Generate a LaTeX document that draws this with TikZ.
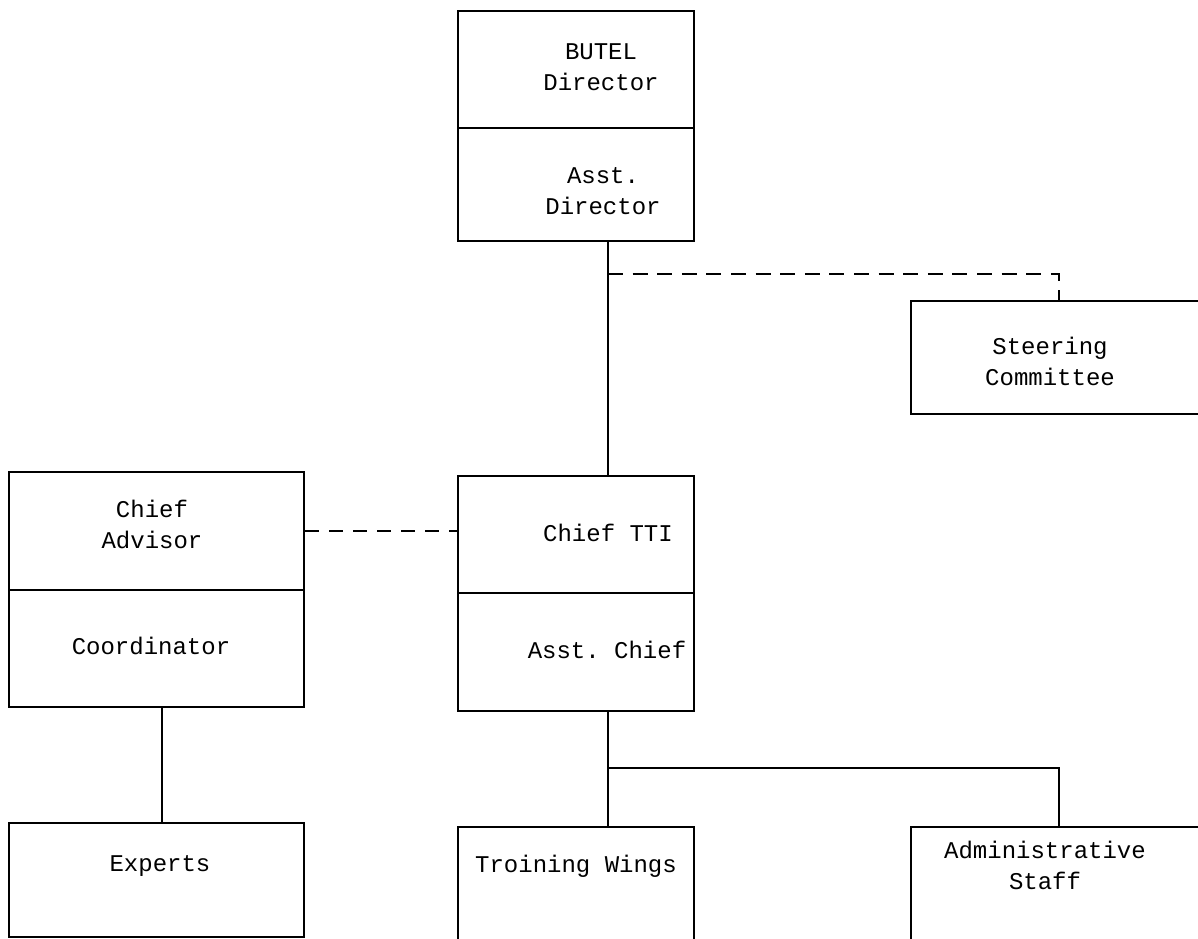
\documentclass[tikz,border=0pt]{standalone}
\usepackage{fontspec}
\setmonofont{Liberation Mono}
\begin{document}
\begin{tikzpicture}[x=1pt,y=-1pt,
  box/.style={draw, line width=2pt, inner sep=0pt, anchor=north west},
  lbl/.style={font=\ttfamily\fontsize{24}{31}\selectfont, align=center, inner sep=0pt},
  conn/.style={line width=2pt},
  dconn/.style={line width=2pt, dash pattern=on 14pt off 10pt}]
\useasboundingbox (0,0) rectangle (1198,938);
\clip (0,0) rectangle (1198,938);
% boxes
\node[box, minimum width=236pt, minimum height=117pt] (butel) at (457,10) {};
\node[box, minimum width=236pt, minimum height=113pt] (asstdir) at (457,127) {};
\node[box, minimum width=296pt, minimum height=113pt] (steer) at (910,300) {};
\node[box, minimum width=295pt, minimum height=118pt] (advisor) at (8,471) {};
\node[box, minimum width=295pt, minimum height=117pt] (coord) at (8,589) {};
\node[box, minimum width=236pt, minimum height=117pt] (tti) at (457,475) {};
\node[box, minimum width=236pt, minimum height=118pt] (asstchief) at (457,592) {};
\node[box, minimum width=295pt, minimum height=114pt] (experts) at (8,822) {};
\node[box, minimum width=236pt, minimum height=200pt] (training) at (457,826) {};
\node[box, minimum width=296pt, minimum height=200pt] (admin) at (910,826) {};
% labels
\node[lbl] (tbutel) at (601,67) {BUTEL\\Director};
\node[lbl] (tasstdir) at (603,191) {Asst.\\Director};
\node[lbl] (tsteer) at (1050,361) {Steering\\Committee};
\node[lbl] (tadvisor) at (152,524) {Chief\\Advisor};
\node[lbl] (tcoord) at (151,646) {Coordinator};
\node[lbl] (ttti) at (608,533) {Chief TTI};
\node[lbl] (tasstchief) at (607,650) {Asst. Chief};
\node[lbl] (texperts) at (160,866) {Experts};
\node[lbl] (ttraining) at (576,866) {Troining Wings};
\node[lbl] (tadmin) at (1045,865) {Administrative\\Staff};
% connectors
\coordinate (a1) at ([xshift=32pt]asstdir.south);
\coordinate (a2) at ([xshift=32pt]tti.north);
\coordinate (j1) at ([yshift=-32pt]a1);
\draw[conn] (a1) -- (a2);
\draw[dconn, dash pattern=on 15pt off 9.6pt] (j1) -| (steer.north);
\draw[dconn] (advisor.east) -- (advisor.east -| tti.west);
\draw[conn] ([xshift=5pt]coord.south) -- ([xshift=5pt]experts.north);
\coordinate (b1) at ([xshift=32pt]asstchief.south);
\coordinate (b2) at ([xshift=32pt]training.north);
\coordinate (j2) at ([yshift=-56pt]b1);
\draw[conn] (b1) -- (b2);
\draw[conn] (j2) -| (admin.north);
\end{tikzpicture}
\end{document}
